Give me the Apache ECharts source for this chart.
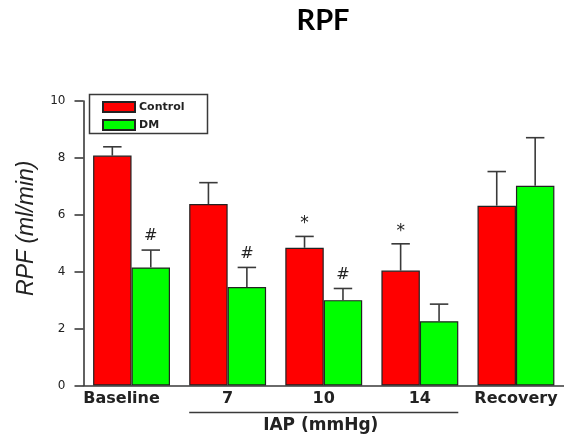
<!DOCTYPE html>
<html><head><meta charset="utf-8">
<script src="https://cdn.jsdelivr.net/npm/echarts@6/dist/echarts.min.js"></script>
<style>html,body{margin:0;padding:0;background:#fff}#c{width:564px;height:440px}</style>
</head><body><div id="c"></div>
<script>
// ---- data ----
const categories = ['Baseline', '7', '10', '14', 'Recovery'];
const controlMean = [8.08, 6.38, 4.84, 4.04, 6.32];
const controlErr  = [0.31, 0.75, 0.40, 0.94, 1.20];
const dmMean      = [4.15, 3.46, 3.00, 2.26, 7.02];
const dmErr       = [0.61, 0.69, 0.41, 0.60, 1.69];
const controlMarks = ['', '', '*', '*', ''];
const dmMarks      = ['#', '#', '#', '', ''];
const yMin = 0, yMax = 10, yStep = 2;

const chart = echarts.init(document.getElementById('c'), null, {renderer: 'canvas'});
const axisColor = '#3a3a3a';

function errRender(sign, marks) {
  return function (params, api) {
    const i = api.value(0), m = api.value(1), e = api.value(2);
    const band = api.size([1, 0])[0];
    const base = api.coord([i, m]);
    const x = base[0] + sign * band * 0.2;
    const yTop = base[1];
    const yErr = api.coord([i, m + e])[1];
    const cap = band * 0.4 * 0.24;
    const children = [
      {type: 'line', shape: {x1: x, y1: yTop, x2: x, y2: yErr}, style: {stroke: axisColor, lineWidth: 1.6}},
      {type: 'line', shape: {x1: x - cap, y1: yErr, x2: x + cap, y2: yErr}, style: {stroke: axisColor, lineWidth: 1.6}}
    ];
    const mk = marks[params.dataIndex];
    if (mk) {
      const isStar = mk === '*';
      children.push({type: 'text', x: x, y: yErr - (isStar ? 4 : 6),
        style: {text: mk, align: 'center', verticalAlign: 'bottom',
          font: (isStar ? '17px' : '16px') + ' "DejaVu Sans"', fill: '#222'}});
    }
    return {type: 'group', children: children};
  };
}

const xData = categories.map((c, i) => i === 0 ? {value: c, textStyle: {padding: [0, 20, 0, 0]}} : c);

const option = {
  animation: false,
  backgroundColor: '#fff',
  grid: {left: 83.5, right: -2, top: 101, bottom: 54.5, containLabel: false},
  legend: {
    data: ['Control', 'DM'], orient: 'vertical', left: 102, top: 101, padding: 0,
    itemWidth: 32, itemHeight: 10, itemGap: 6, icon: 'rect',
    textStyle: {fontFamily: 'DejaVu Sans', fontWeight: 'bold', fontSize: 11, color: '#222', padding: [0, 0, 0, -1]}
  },
  xAxis: {
    type: 'category', data: xData,
    axisLine: {lineStyle: {color: axisColor, width: 1.6}},
    axisTick: {show: false},
    axisLabel: {fontFamily: 'DejaVu Sans', fontWeight: 'bold', fontSize: 16, color: '#222', margin: 5, interval: 0},
    name: 'IAP (mmHg)', nameLocation: 'middle', nameGap: 32,
    nameTextStyle: {fontFamily: 'DejaVu Sans', fontWeight: 'bold', fontSize: 17, color: '#222', padding: [0, 6, 0, 0]}
  },
  yAxis: {
    type: 'value', min: yMin, max: yMax, interval: yStep,
    splitLine: {show: false},
    axisLine: {show: true, lineStyle: {color: axisColor, width: 1.6}},
    axisTick: {show: true, length: 9, lineStyle: {color: axisColor, width: 1.6}},
    axisLabel: {fontFamily: 'DejaVu Sans', fontSize: 12, color: '#222', margin: 18}
  },
  series: [
    {name: 'Control', type: 'bar', data: controlMean, barGap: '0%', barCategoryGap: '20%',
     itemStyle: {color: '#ff0000', borderColor: '#222', borderWidth: 1.2}},
    {name: 'DM', type: 'bar', data: dmMean, barGap: '0%', barCategoryGap: '20%',
     itemStyle: {color: '#00ff00', borderColor: '#222', borderWidth: 1.2}},
    {name: 'ctrlErr', type: 'custom', renderItem: errRender(-1, controlMarks), z: 10,
     encode: {x: 0, y: 1}, data: controlMean.map((v, i) => [i, v, controlErr[i]])},
    {name: 'dmErr', type: 'custom', renderItem: errRender(1, dmMarks), z: 10,
     encode: {x: 0, y: 1}, data: dmMean.map((v, i) => [i, v, dmErr[i]])}
  ]
};
chart.setOption(option);

// decorations derived from axis geometry
const p0 = chart.convertToPixel({gridIndex: 0}, [0, 0]);
const p1 = chart.convertToPixel({gridIndex: 0}, [1, 0]);
const p3 = chart.convertToPixel({gridIndex: 0}, [3, 0]);
const band = p1[0] - p0[0];
const yTop = chart.convertToPixel({gridIndex: 0}, [0, yMax])[1];
const yBot = p0[1];
chart.setOption({
  graphic: [
    {type: 'text', x: 323, y: 21, style: {text: 'RPF', align: 'center', verticalAlign: 'middle',
      font: 'bold 29px Lato', fill: '#000'}},
    {type: 'text', rotation: Math.PI / 2, x: 27, y: (yTop + yBot) / 2 - 15,
      style: {text: 'RPF (ml/min)', align: 'center', verticalAlign: 'middle', font: 'italic 23px "Liberation Sans"', fill: '#222'}},
    {type: 'rect', shape: {x: 89.5, y: 94.5, width: 118, height: 39},
      style: {fill: 'none', stroke: axisColor, lineWidth: 1.5}, z: 5},
    {type: 'line', shape: {x1: p1[0] - band * 0.4, y1: yBot + 27, x2: p3[0] + band * 0.4, y2: yBot + 27},
      style: {stroke: axisColor, lineWidth: 1.5}}
  ]
});
</script></body></html>
